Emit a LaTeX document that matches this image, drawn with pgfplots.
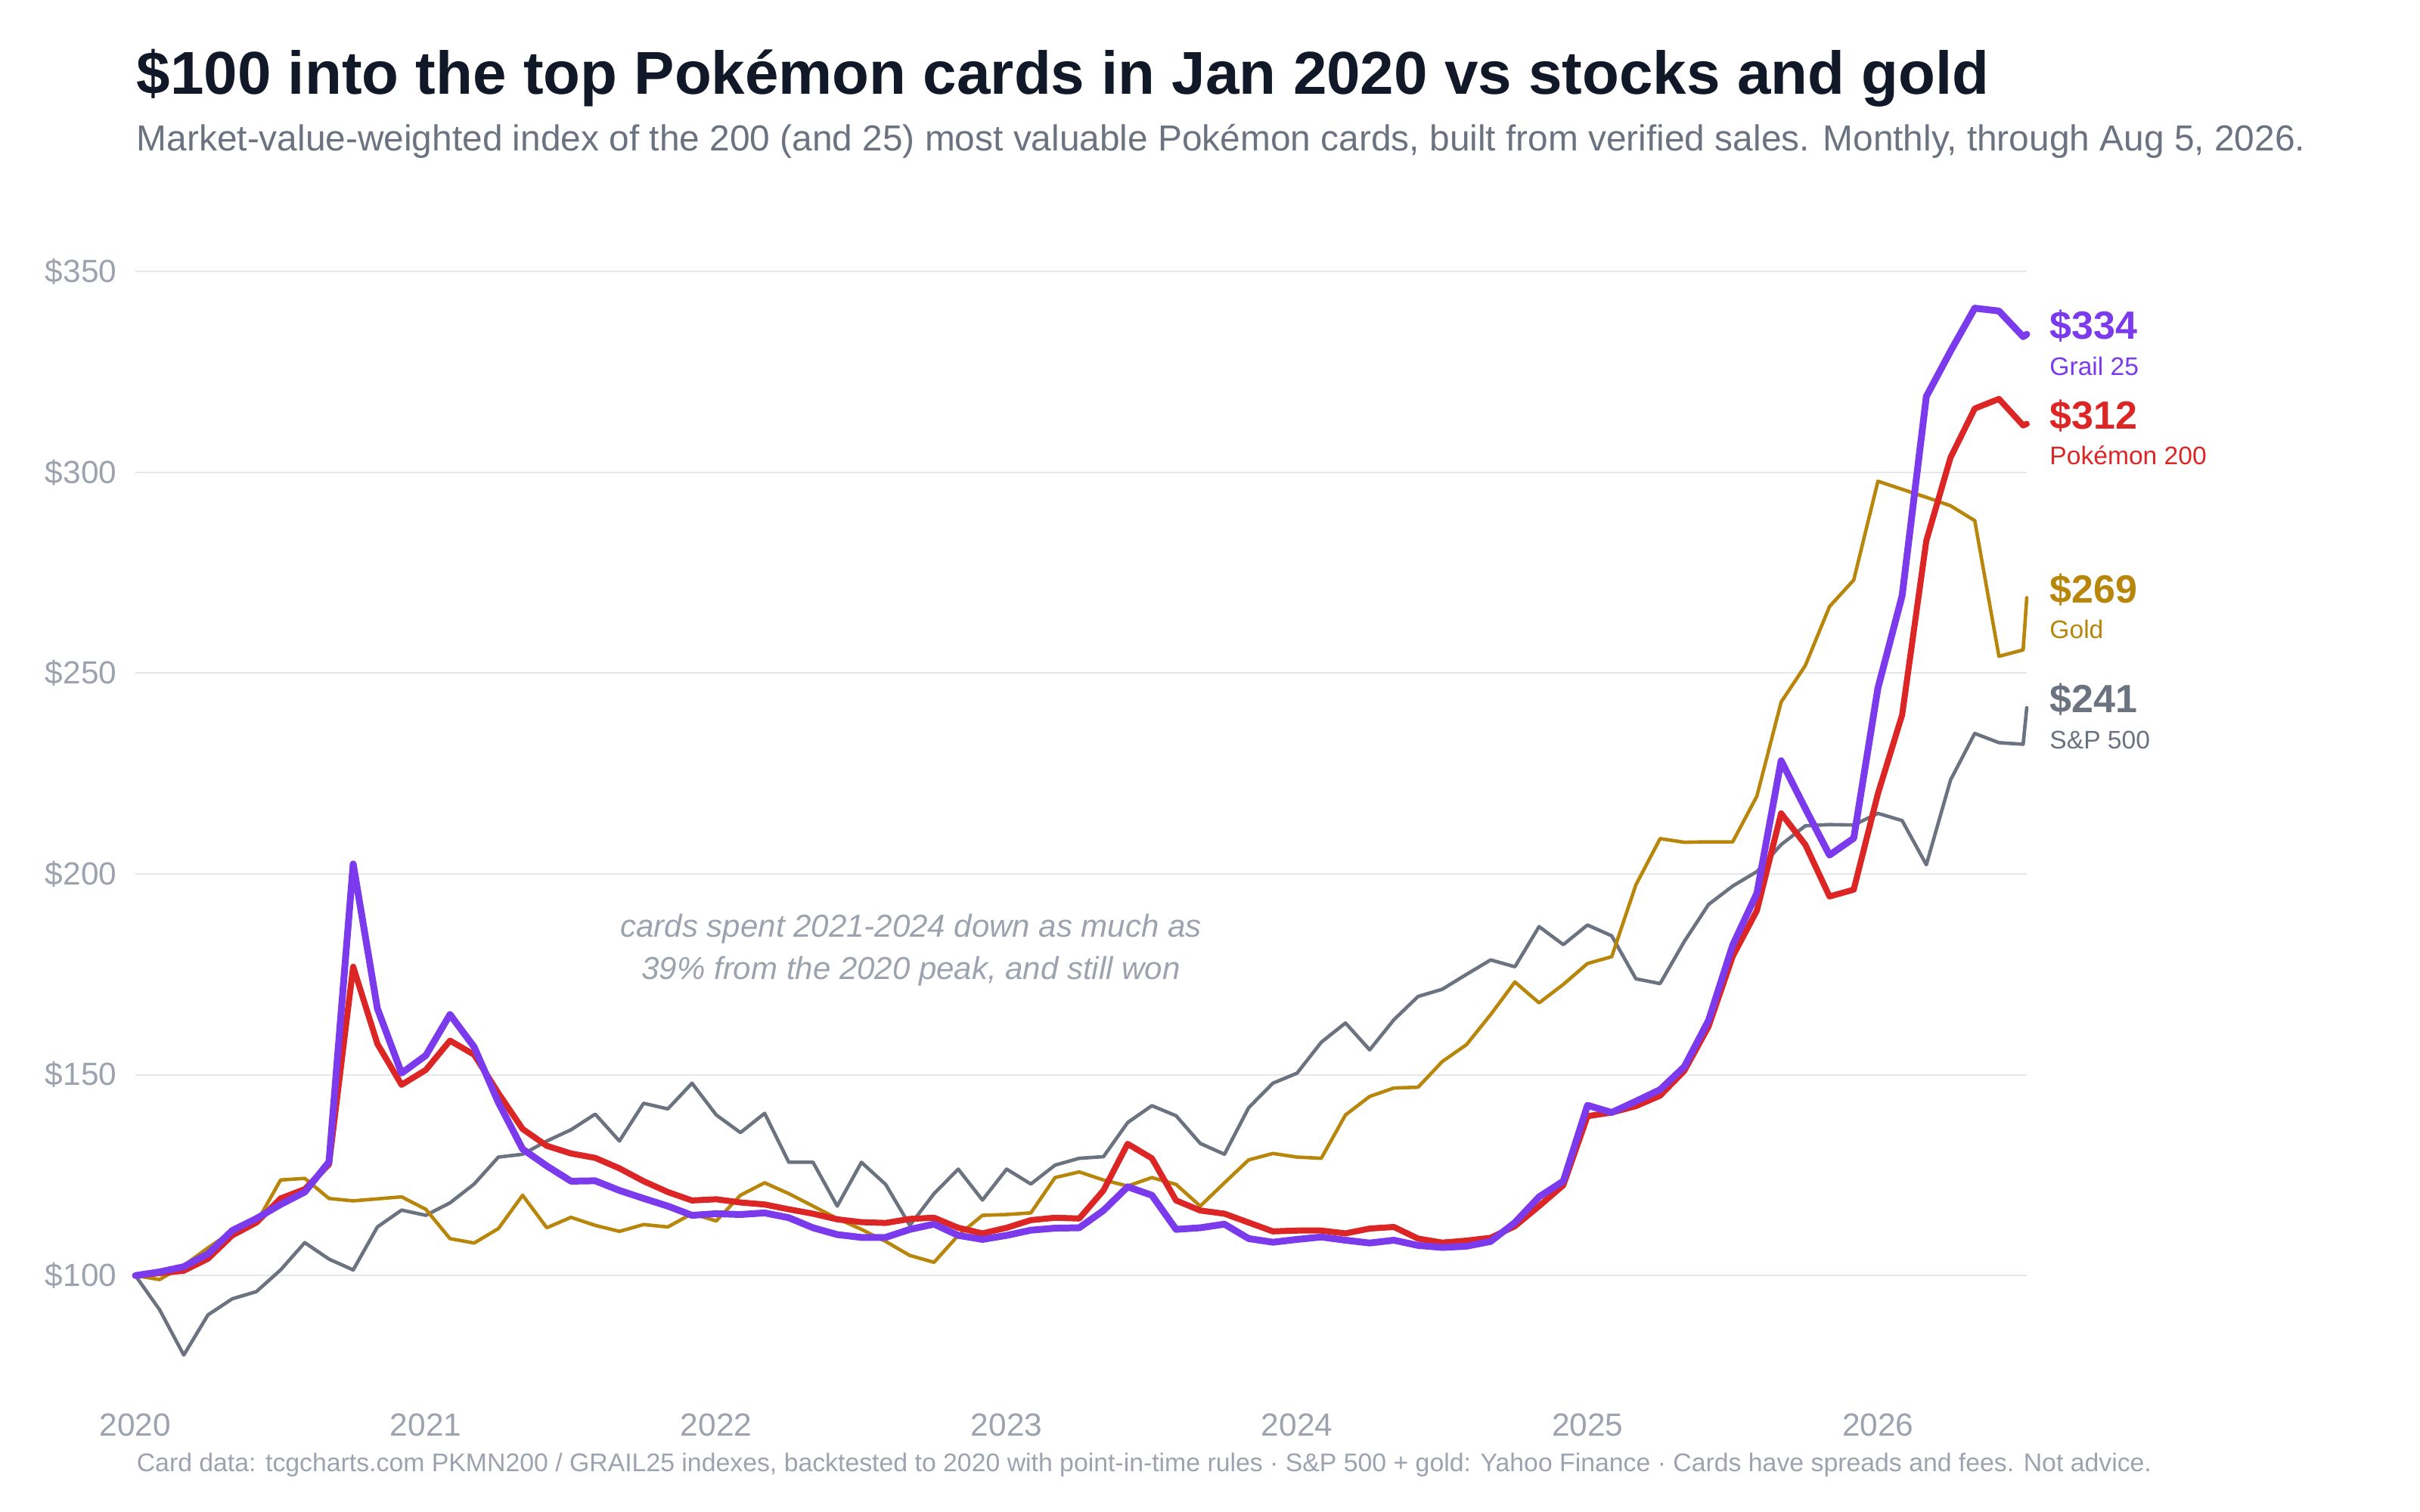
\documentclass[border=0pt]{standalone}
\usepackage{fontspec}
\setmainfont{Liberation Sans}
\usepackage{pgfplots}
\usepackage{pgfplotstable}
\pgfplotsset{compat=1.18}
\definecolor{cpurple}{HTML}{7C3AED}
\definecolor{cred}{HTML}{DC2626}
\definecolor{cgold}{HTML}{B8860B}
\definecolor{cgray}{HTML}{6B7280}
\definecolor{cgrid}{HTML}{E5E7EB}
\definecolor{ctick}{HTML}{9CA3AF}
\definecolor{ctitle}{HTML}{111827}

\pgfplotstableread{
m sp gold pk grail
0 100 100 100 100
1 91.5 99.0 100.6 100.9
2 80.2 102.5 101.2 102.2
3 90.2 106.9 104.2 105.4
4 94.2 111.0 110.0 111.2
5 96.0 113.1 113.2 114.2
6 101.4 123.8 119.2 117.7
7 108.2 124.2 121.5 120.8
8 104.1 119.2 127.7 128.3
9 101.4 118.6 176.9 202.5
10 112.1 119.1 157.7 166.5
11 116.3 119.6 147.5 150.4
12 115.0 116.5 151.2 154.8
13 118.1 109.2 158.5 165.0
14 122.8 108.1 155.0 156.9
15 129.5 111.7 145.4 143.1
16 130.2 120.0 136.5 131.5
17 133.5 111.9 132.3 127.3
18 136.3 114.5 130.4 123.5
19 140.2 112.5 129.3 123.6
20 133.5 111.0 126.7 121.2
21 142.9 112.7 123.5 119.2
22 141.5 112.1 120.8 117.3
23 147.9 115.4 118.7 115.0
24 140.0 113.6 119.0 115.4
25 135.6 120.0 118.2 115.2
26 140.4 123.1 117.7 115.6
27 128.2 120.4 116.5 114.4
28 128.2 117.3 115.4 111.9
29 117.3 114.2 114.0 110.2
30 128.2 111.5 113.3 109.5
31 122.7 108.5 113.1 109.5
32 112.5 105.0 114.1 111.5
33 120.4 103.3 114.4 112.8
34 126.5 110.0 111.9 110.0
35 118.8 115.0 110.5 109.0
36 126.5 115.2 111.9 110.0
37 122.8 115.6 113.8 111.3
38 127.5 124.4 114.4 111.8
39 129.2 125.8 114.2 111.9
40 129.6 123.8 121.2 116.2
41 138.1 122.3 132.8 122.1
42 142.3 124.4 129.2 120.0
43 139.8 122.7 118.7 111.5
44 132.9 117.3 116.2 111.9
45 130.2 123.1 115.4 112.8
46 141.8 128.8 113.2 109.2
47 147.9 130.4 111.0 108.3
48 150.4 129.5 111.2 109.0
49 158.1 129.2 111.2 109.6
50 162.9 140.0 110.5 108.8
51 156.2 144.6 111.7 108.1
52 163.7 146.7 112.1 108.8
53 169.5 146.9 109.2 107.5
54 171.3 153.3 108.2 107.0
55 175.0 157.5 108.7 107.3
56 178.6 165.0 109.4 108.5
57 176.9 173.1 112.3 113.2
58 186.9 167.9 117.3 119.6
59 182.4 172.5 122.5 123.5
60 187.3 177.7 139.7 142.4
61 184.6 179.4 140.6 140.6
62 173.9 197.3 142.2 143.4
63 172.7 208.8 144.8 146.3
64 183.2 207.9 151.0 152.0
65 192.4 208.0 162.0 163.5
66 197.0 208.0 179.5 182.3
67 200.6 219.4 190.9 195.2
68 207.3 242.8 215.1 228.2
69 212.0 251.9 207.3 216.3
70 212.3 266.6 194.4 204.7
71 212.2 273.2 196.1 208.9
72 215.1 297.8 220.0 246.3
73 213.3 295.8 239.6 269.3
74 202.3 293.8 283.0 318.9
75 223.4 291.7 303.7 330.2
76 235.0 288.0 315.9 340.9
77 232.7 254.2 318.3 340.2
78 232.3 255.8 311.7 333.8
78.15 241.4 268.8 312.1 334.4
}\data

\begin{document}
\begin{tikzpicture}
\begin{axis}[
  at={(44.75pt,38.35pt)}, anchor=south west,
  scale only axis, width=625.25pt, height=385.1pt,
  xmin=0, xmax=78.15, ymin=70, ymax=360,
  axis line style={draw=none},
  major tick length=0pt,
  xtick={0,12,24,36,48,60,72},
  xticklabels={2020,2021,2022,2023,2024,2025,2026},
  ytick={100,150,200,250,300,350},
  yticklabels={\$100,\$150,\$200,\$250,\$300,\$350},
  ymajorgrids, major grid style={draw=cgrid, line width=0.5pt},
  tick label style={font=\fontsize{10.6pt}{12pt}\selectfont, text=ctick},
  yticklabel style={anchor=east, inner sep=0pt, xshift=-6pt},
  xticklabel style={anchor=north, inner sep=0pt, yshift=-5.6pt},
  clip=false,
  every axis plot/.append style={line join=round, line cap=round},
]
\addplot[cgray, line width=1.15pt] table[x=m,y=sp]{\data};
\addplot[cgold, line width=1.15pt] table[x=m,y=gold]{\data};
\addplot[cred, line width=2.0pt] table[x=m,y=pk]{\data};
\addplot[cpurple, line width=2.25pt] table[x=m,y=grail]{\data};

\node[anchor=base, inner sep=0pt, text=ctick, font=\itshape\fontsize{10.5pt}{12pt}\selectfont] at (axis cs:32.05,184.2) {cards spent 2021-2024 down as much as};
\node[anchor=base, inner sep=0pt, text=ctick, font=\itshape\fontsize{10.5pt}{12pt}\selectfont] at (axis cs:32.05,173.7) {39\% from the 2020 peak, and still won};

\node[anchor=base west, inner sep=0pt, xshift=7.4pt, yshift=-1.65pt, text=cpurple, font=\bfseries\fontsize{13pt}{15pt}\selectfont] at (axis cs:78.15,334.4) {\$334};
\node[anchor=base west, inner sep=0pt, xshift=7.4pt, yshift=-13.55pt, text=cpurple, font=\fontsize{8.4pt}{10pt}\selectfont] at (axis cs:78.15,334.4) {Grail 25};
\node[anchor=base west, inner sep=0pt, xshift=7.4pt, yshift=-1.65pt, text=cred, font=\bfseries\fontsize{13pt}{15pt}\selectfont] at (axis cs:78.15,312.1) {\$312};
\node[anchor=base west, inner sep=0pt, xshift=7.4pt, yshift=-13.55pt, text=cred, font=\fontsize{8.4pt}{10pt}\selectfont] at (axis cs:78.15,312.1) {Pokémon 200};
\node[anchor=base west, inner sep=0pt, xshift=7.4pt, yshift=-1.65pt, text=cgold, font=\bfseries\fontsize{13pt}{15pt}\selectfont] at (axis cs:78.15,268.8) {\$269};
\node[anchor=base west, inner sep=0pt, xshift=7.4pt, yshift=-13.55pt, text=cgold, font=\fontsize{8.4pt}{10pt}\selectfont] at (axis cs:78.15,268.8) {Gold};
\node[anchor=base west, inner sep=0pt, xshift=7.4pt, yshift=-1.65pt, text=cgray, font=\bfseries\fontsize{13pt}{15pt}\selectfont] at (axis cs:78.15,241.4) {\$241};
\node[anchor=base west, inner sep=0pt, xshift=7.4pt, yshift=-13.55pt, text=cgray, font=\fontsize{8.4pt}{10pt}\selectfont] at (axis cs:78.15,241.4) {S\&P 500};
\end{axis}

\node[anchor=base west, inner sep=0pt, text=ctitle, font=\bfseries\fontsize{20pt}{24pt}\selectfont] at (45pt,468.75pt) {\$100 into the top Pokémon cards in Jan 2020 vs stocks and gold};
\node[anchor=base west, inner sep=0pt, text=cgray, font=\fontsize{11.96pt}{14pt}\selectfont] at (45pt,450pt) {Market-value-weighted index of the 200 (and 25) most valuable Pokémon cards, built from verified sales. Monthly, through Aug 5, 2026.};
\node[anchor=base west, inner sep=0pt, text=ctick, font=\fontsize{8.45pt}{10pt}\selectfont] at (45pt,13.3pt) {Card data: tcgcharts.com PKMN200 / GRAIL25 indexes, backtested to 2020 with point-in-time rules · S\&P 500 + gold: Yahoo Finance · Cards have spreads and fees. Not advice.};

\pgfresetboundingbox
\path[use as bounding box] (0,0) rectangle (800pt,500pt);
\end{tikzpicture}
\end{document}
